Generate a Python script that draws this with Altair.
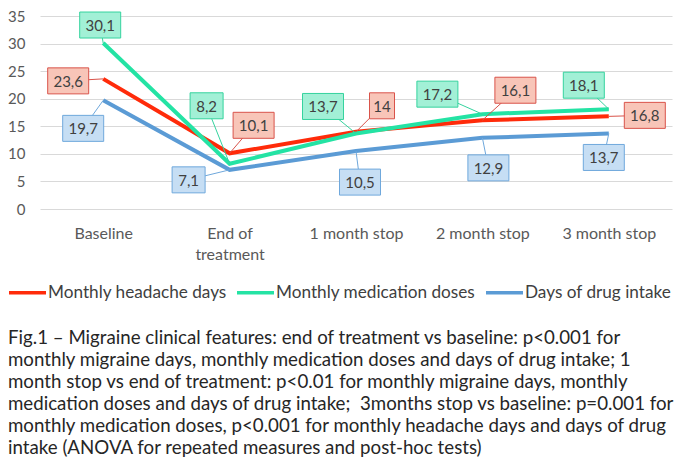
import altair as alt
import pandas as pd

categories = ["Baseline", "End of treatment", "1 month stop", "2 month stop", "3 month stop"]
series = ["Monthly headache days", "Monthly medication doses", "Days of drug intake"]
headache_days = [23.6, 10.1, 14.0, 16.1, 16.8]
medication_doses = [30.1, 8.2, 13.7, 17.2, 18.1]
drug_intake_days = [19.7, 7.1, 10.5, 12.9, 13.7]
y_ticks = [0, 5, 10, 15, 20, 25, 30, 35]

caption_lines = [
    "Fig.1 \u2013 Migraine clinical features: end of treatment vs baseline: p<0.001 for",
    "monthly migraine days, monthly medication doses and days of drug intake; 1",
    "month stop vs end of treatment: p<0.01 for monthly migraine days, monthly",
    "medication doses and days of drug intake;\u00a0 3months stop vs baseline: p=0.001 for",
    "monthly medication doses, p<0.001 for monthly headache days and days of drug",
    "intake (ANOVA for repeated measures and post-hoc tests)",
]

# styles
line_colors = ["#FF2B0A", "#24E3A4", "#5B9BD5"]
box_fills = ["#F8C5B8", "#A2F0D6", "#C6DEF4"]
box_strokes = ["#D9534A", "#35D39E", "#6FA8DC"]
FONT = "Lato"

# data-label placement (pixel offsets of the label box from its point)
label_offsets = [
    [(-35, 2), (24, -28), (26, -26), (33, -30), (36, -1)],
    [(-3, -18), (-23, -58), (-33, -27), (-45, -20), (-25, -24)],
    [(-20, 28), (-41, 10), (4, 31), (6, 30), (-5, 24)],
]

values = [headache_days, medication_doses, drug_intake_days]
rows = []
for s_i, s in enumerate(series):
    for c_i, c in enumerate(categories):
        v = values[s_i][c_i]
        rows.append({
            "key": s_i * 10 + c_i,
            "series": s,
            "category": c,
            "value": v,
            "label": f"{v:g}".replace(".", ","),
        })
df = pd.DataFrame(rows)

X = alt.X(
    "category:N", sort=categories,
    scale=alt.Scale(type="point", padding=0.5),
    axis=alt.Axis(
        title=None, labelAngle=0, domain=False, ticks=False, grid=False,
        labelPadding=16, labelFontSize=16, labelFont=FONT, labelColor="#595959",
        labelLineHeight=21,
        labelExpr="datum.label == 'End of treatment' ? ['End of', 'treatment'] : datum.label",
    ),
)
Y = alt.Y(
    "value:Q",
    scale=alt.Scale(domain=[0, 35], nice=False),
    axis=alt.Axis(
        title=None, values=y_ticks, domain=False, ticks=False, grid=True,
        gridColor="#D9D9D9", gridWidth=1, labelPadding=15, labelFontSize=15,
        labelFont=FONT, labelColor="#595959",
    ),
)

lines = alt.Chart(df).mark_line(strokeWidth=4, interpolate="linear").encode(
    x=X, y=Y,
    color=alt.Color(
        "series:N", sort=series,
        scale=alt.Scale(domain=series, range=line_colors),
        legend=alt.Legend(
            title=None, orient="none", legendX=-33, legendY=256,
            direction="horizontal", symbolType="stroke", symbolSize=1369,
            symbolStrokeWidth=3.5, labelFont=FONT, labelFontSize=17.2,
            labelColor="#404040", columnPadding=3, labelOffset=0, labelLimit=0,
        ),
    ),
)

layers = [lines]
for s_i, s in enumerate(series):
    for c_i, c in enumerate(categories):
        dx, dy = label_offsets[s_i][c_i]
        key = s_i * 10 + c_i
        txt = df.loc[df.key == key, "label"].iloc[0]
        w = 8 * len(txt) + 9
        h = 26
        path = f"M{-w/2},{-h/2}H{w/2}V{h/2}H{-w/2}Z"
        base = alt.Chart(df).transform_filter(alt.datum.key == key)
        rule = base.mark_rule(
            color=box_strokes[s_i], strokeWidth=1, x2Offset=dx, y2Offset=dy
        ).encode(x=X, y=Y, x2="category:N", y2="value:Q")
        box = base.mark_point(
            shape=path, size=4, filled=True, fill=box_fills[s_i],
            stroke=box_strokes[s_i], strokeWidth=1, opacity=1,
            xOffset=dx, yOffset=dy,
        ).encode(x=X, y=Y)
        text = base.mark_text(
            font=FONT, fontSize=15, color="#404040", align="center",
            baseline="middle", xOffset=dx, yOffset=dy + 1,
        ).encode(x=X, y=Y, text="label:N")
        layers += [rule, box, text]

chart = alt.layer(*layers).properties(
    width=632, height=193,
    autosize=alt.AutoSizeParams(type="none"),
    padding={"left": 32, "top": 8, "right": 5, "bottom": 252},
    title=alt.TitleParams(
        text=caption_lines, orient="bottom", anchor="start", frame="group",
        dx=-32, offset=28, fontSize=18.7, font=FONT, fontWeight="normal",
        color="#262626", lineHeight=22,
    ),
).configure_view(stroke=None)

chart.save("out.html", embed_options={"renderer": "svg", "actions": False})
